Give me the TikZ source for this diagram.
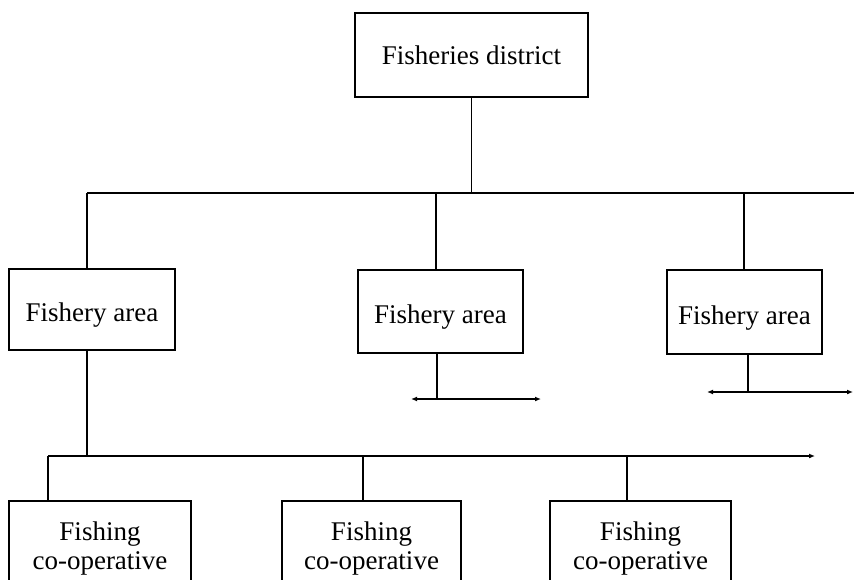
\documentclass[tikz,border=0pt]{standalone}
\usepackage{fontspec}
\setmainfont{Liberation Serif}
\usetikzlibrary{arrows.meta}
\begin{document}
\begin{tikzpicture}[x=1pt,y=-1pt,
  line width=1.5pt,
  unit/.style={draw, rectangle, inner sep=0pt, align=center,
    font=\fontsize{27}{29}\selectfont},
  lowtext/.style={text height=30pt, text depth=6pt},
  tip/.style={-{Latex[length=6pt,width=5pt]}},
  tips/.style={{Latex[length=6pt,width=5pt]}-{Latex[length=6pt,width=5pt]}}]
  \useasboundingbox (0,0) rectangle (854,580);
  \clip (0,0) rectangle (854,580);

  % organisational units
  \node[unit, minimum width=233pt, minimum height=84pt] (district) at (471.5,55) {Fisheries district};
  \node[unit, lowtext, minimum width=166pt, minimum height=81pt] (area1) at (92,309.5) {Fishery area};
  \node[unit, lowtext, minimum width=165pt, minimum height=83pt] (area2) at (440.5,311.5) {Fishery area};
  \node[unit, lowtext, minimum width=155pt, minimum height=84pt] (area3) at (744.5,312) {Fishery area};
  \node[unit, minimum width=182pt, minimum height=96pt] (coop1) at (100,549) {Fishing\\co-operative};
  \node[unit, minimum width=179pt, minimum height=96pt] (coop2) at (371.5,549) {Fishing\\co-operative};
  \node[unit, minimum width=181pt, minimum height=96pt] (coop3) at (640.5,549) {Fishing\\co-operative};

  % junction points
  \coordinate (busA) at (87,193);
  \coordinate (busAend) at (854,193);
  \coordinate (tapA2) at (436,193);
  \coordinate (tapA3) at (744,193);
  \coordinate (busB) at (48,456);
  \coordinate (busBend) at (815,456);
  \coordinate (tapB1) at (87,456);
  \coordinate (tapB2) at (363,456);
  \coordinate (tapB3) at (627,456);
  \coordinate (sub2) at (437,399);
  \coordinate (sub2L) at (411,399);
  \coordinate (sub2R) at (541,399);
  \coordinate (sub3) at (748,392);
  \coordinate (sub3L) at (707,392);
  \coordinate (sub3R) at (853,392);

  % district to areas
  \draw (district.south) -- (district.south |- busA);
  \draw (busA) -- (busAend);
  \draw (busA) -- (busA |- area1.north);
  \draw (tapA2) -- (tapA2 |- area2.north);
  \draw (tapA3) -- (tapA3 |- area3.north);

  % areas to further units
  \draw (sub2 |- area2.south) -- (sub2);
  \draw[tips] (sub2L) -- (sub2R);
  \draw (sub3 |- area3.south) -- (sub3);
  \draw[tips] (sub3L) -- (sub3R);

  % area to co-operatives
  \draw (tapB1 |- area1.south) -- (tapB1);
  \draw[tip] (busB) -- (busBend);
  \draw (busB) -- (busB |- coop1.north);
  \draw (tapB2) -- (tapB2 |- coop2.north);
  \draw (tapB3) -- (tapB3 |- coop3.north);
\end{tikzpicture}
\end{document}
